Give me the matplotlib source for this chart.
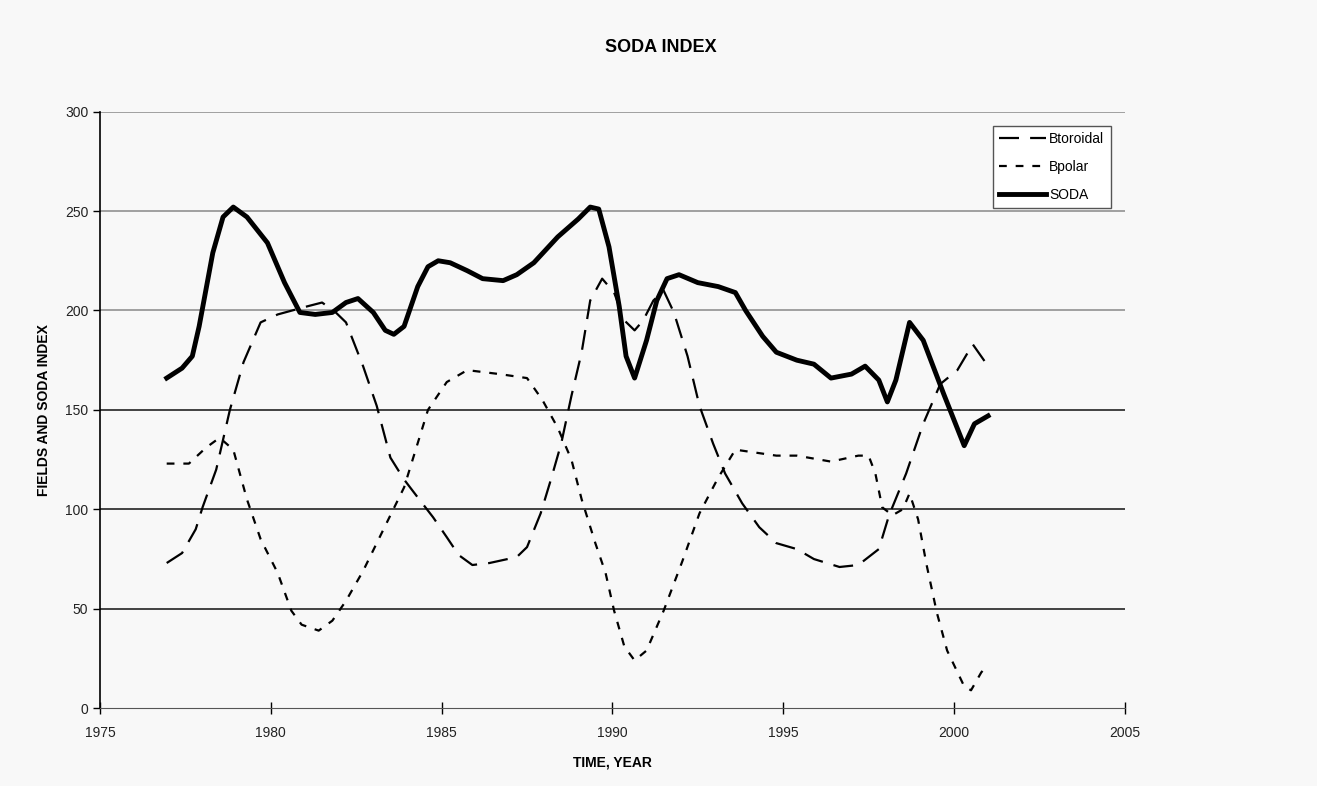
import matplotlib.pyplot as plt

plt.rcParams['font.family'] = ['Liberation Sans', 'DejaVu Sans']

# SODA index (thick solid)
soda_years = [1976.95, 1977.4, 1977.7, 1977.9, 1978.3, 1978.6, 1978.9, 1979.3, 1979.9, 1980.4,
              1980.85, 1981.3, 1981.8, 1982.2, 1982.55, 1983.0, 1983.35, 1983.6, 1983.9, 1984.3,
              1984.6, 1984.9, 1985.25, 1985.75, 1986.2, 1986.8, 1987.2, 1987.7, 1988.4, 1989.0,
              1989.35, 1989.6, 1989.9, 1990.2, 1990.4, 1990.65, 1991.0, 1991.3, 1991.6, 1991.95,
              1992.5, 1993.1, 1993.6, 1993.9, 1994.4, 1994.8, 1995.4, 1995.9, 1996.4, 1997.0,
              1997.4, 1997.8, 1998.05, 1998.3, 1998.7, 1999.1, 1999.7, 2000.3, 2000.6, 2001.0]
soda = [166, 171, 177, 192, 229, 247, 252, 247, 234, 214,
        199, 198, 199, 204, 206, 199, 190, 188, 192, 212,
        222, 225, 224, 220, 216, 215, 218, 224, 237, 246,
        252, 251, 232, 202, 177, 166, 185, 205, 216, 218,
        214, 212, 209, 200, 187, 179, 175, 173, 166, 168,
        172, 165, 154, 165, 194, 185, 158, 132, 143, 147]

# toroidal field (long dashes)
tor_years = [1976.95, 1977.4, 1977.8, 1978.0, 1978.4, 1978.8, 1979.2, 1979.7, 1980.2, 1981.05,
             1981.5, 1981.9, 1982.2, 1982.7, 1983.1, 1983.5, 1983.9, 1984.3, 1984.75, 1985.15,
             1985.5, 1985.9, 1986.4, 1987.2, 1987.5, 1987.9, 1988.2, 1988.5, 1988.8, 1989.1,
             1989.35, 1989.7, 1990.05, 1990.35, 1990.65, 1990.9, 1991.2, 1991.5, 1991.8, 1992.2,
             1992.55, 1992.95, 1993.3, 1993.8, 1994.3, 1994.8, 1995.4, 1995.9, 1996.65, 1997.2,
             1997.8, 1998.1, 1998.6, 1999.1, 1999.6, 2000.1, 2000.55, 2001.0]
toroidal = [73, 78, 90, 101, 120, 150, 174, 194, 198, 202,
            204, 199, 194, 172, 152, 126, 115, 106, 96, 86,
            77, 72, 73, 76, 81, 98, 115, 133, 157, 179,
            205, 216, 209, 195, 190, 195, 205, 210, 199, 177,
            152, 133, 118, 103, 91, 83, 80, 75, 71, 72,
            80, 97, 118, 143, 163, 170, 183, 172]

# polar field (short dashes)
pol_years = [1976.95, 1977.6, 1978.1, 1978.5, 1978.9, 1979.3, 1979.7, 1980.2, 1980.6, 1980.9,
             1981.4, 1981.8, 1982.2, 1982.7, 1983.3, 1983.9, 1984.6, 1985.15, 1985.75, 1986.7,
             1987.5, 1987.95, 1988.4, 1988.8, 1989.1, 1989.5, 1989.8, 1990.05, 1990.35, 1990.65,
             1991.0, 1991.5, 1992.05, 1992.55, 1993.1, 1993.6, 1994.0, 1994.8, 1995.4, 1996.4,
             1997.2, 1997.5, 1997.7, 1997.9, 1998.2, 1998.5, 1998.7, 1998.95, 1999.2, 1999.5,
             1999.8, 2000.3, 2000.5, 2000.8, 2001.0]
polar = [123, 123, 131, 136, 130, 105, 85, 68, 49, 42,
         39, 44, 54, 69, 90, 111, 150, 164, 170, 168,
         166, 155, 141, 125, 105, 83, 68, 49, 31, 24,
         29, 49, 74, 98, 116, 130, 129, 127, 127, 124,
         127, 127, 118, 101, 97, 100, 108, 95, 72, 48,
         29, 11, 9, 18, 22]

yticks = [0, 50, 100, 150, 200, 250, 300]
xticks = [1975, 1980, 1985, 1990, 1995, 2000, 2005]

fig = plt.figure(figsize=(13.17, 7.86), dpi=100, facecolor='#f8f8f8')
ax = fig.add_axes([0.076, 0.099, 0.778, 0.759])
ax.set_facecolor('#f8f8f8')

# gridlines: upper ones look lighter in the original
for v in yticks[1:]:
    ax.axhline(v, color='#999999' if v >= 200 else '#333333', lw=1.3, zorder=0)

ax.plot(tor_years, toroidal, color='black', lw=1.6, dashes=(9, 5), label='Btoroidal')
ax.plot(pol_years, polar, color='black', lw=1.6, dashes=(3.5, 4), label='Bpolar')
ax.plot(soda_years, soda, color='black', lw=3.5, solid_joinstyle='round', label='SODA')

ax.set_xlim(1975, 2005)
ax.set_ylim(0, 300)
ax.set_xticks(xticks)
ax.set_yticks(yticks)
ax.tick_params(labelsize=10, direction='out', length=5, width=1, labelcolor='#222222')
ax.tick_params(axis='x', direction='inout', length=8, pad=9)
for s in ['top', 'right']:
    ax.spines[s].set_visible(False)
ax.spines['left'].set_linewidth(1.2)
ax.spines['bottom'].set_color('#555555')

fig.text(0.502, 0.939, 'SODA INDEX', fontsize=13, fontweight='bold', ha='center', va='center')
ax.set_xlabel('TIME, YEAR', fontsize=10, fontweight='bold', labelpad=11)
ax.set_ylabel('FIELDS AND SODA INDEX', fontsize=10, fontweight='bold', labelpad=10)

leg = ax.legend(loc='upper right', bbox_to_anchor=(0.993, 0.988), fontsize=10, frameon=True,
                fancybox=False, handlelength=3.4, handletextpad=0.2, borderpad=0.45,
                labelspacing=1.0, facecolor='white', framealpha=1)
leg.get_frame().set_edgecolor('#555555')

fig.savefig('out.png', dpi=100, facecolor=fig.get_facecolor())
